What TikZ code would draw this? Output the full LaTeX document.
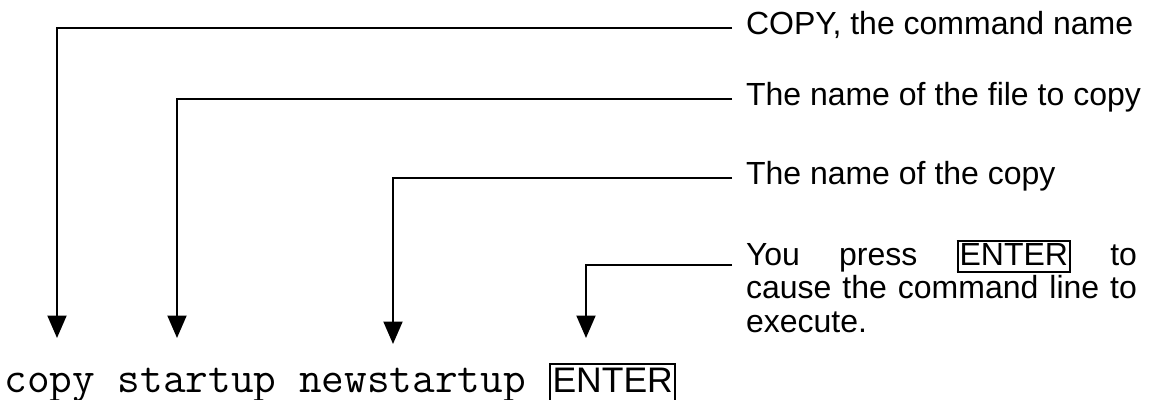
\documentclass[tikz,border=0pt]{standalone}
\usepackage{fontspec}
\setmainfont{Liberation Sans}
\usetikzlibrary{arrows.meta}
\newcommand{\enterkey}{{\setlength{\fboxsep}{0.4pt}\setlength{\fboxrule}{0.8pt}\fbox{\rule[-2pt]{0pt}{9.4pt}ENTER}}}

\begin{document}
\begin{tikzpicture}[x=0.4pt,y=-0.4pt,
  note/.style={anchor=mid west,inner xsep=5.4pt,font=\fontsize{12.8pt}{13.4pt}\selectfont},
  pointer/.style={-{Triangle[width=7.6pt,length=9pt]},line width=0.8pt}]
  \useasboundingbox (0,0) rectangle (1149,400);
  \node[note] (name) at (732,28) {COPY, the command name};
  \node[note] (src) at (732,99) {The name of the file to copy};
  \node[note] (dst) at (732,178) {The name of the copy};
  \node[note,anchor=base west,text width=156.4pt,align=justify] (press) at (732,265)
    {You press \enterkey{} to\linebreak cause the command line to execute.};
  \node[anchor=base west,inner sep=0pt,font=\ttfamily\fontsize{17.6pt}{20pt}\selectfont] (cmd) at (4,392)
    {copy startup newstartup};
  \node[draw,line width=0.8pt,anchor=base west,inner xsep=1pt,inner ysep=1pt,
    text height=10.2pt,text depth=4pt,font=\fontsize{14.2pt}{17pt}\selectfont] (enter) at (549,392) {ENTER};
  \coordinate (tcopy) at (57,338);
  \coordinate (tsrc) at (177,338);
  \coordinate (tdst) at (393,344);
  \coordinate (tenter) at (586,338);
  \draw[pointer] (name.mid west) -| (tcopy);
  \draw[pointer] (src.mid west) -| (tsrc);
  \draw[pointer] (dst.mid west) -| (tdst);
  \draw[pointer] (press.base west) -| (tenter);
\end{tikzpicture}
\end{document}
